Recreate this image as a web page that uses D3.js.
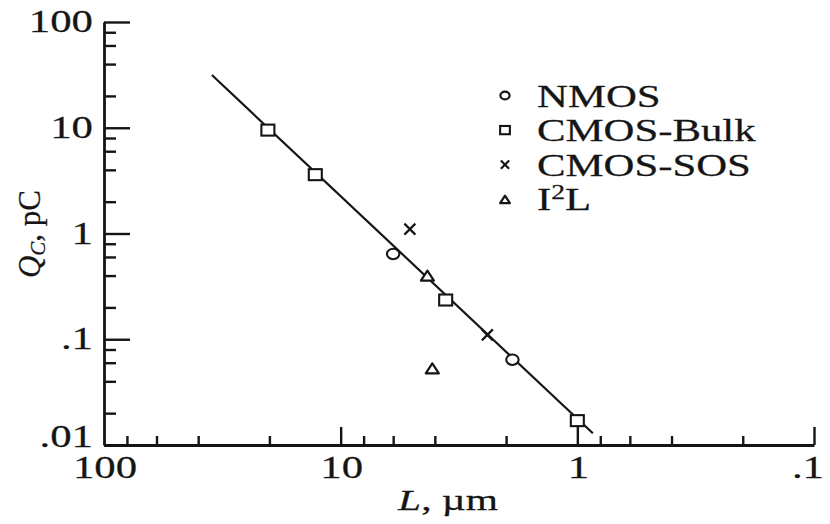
<!DOCTYPE html>
<html>
<head>
<meta charset="utf-8">
<script src="https://cdn.jsdelivr.net/npm/d3@7"></script>
<style>
  html, body { margin: 0; padding: 0; background: #fff; }
  svg { display: block; }
</style>
</head>
<body>
<svg id="chart" width="830" height="524"></svg>
<script>
// Collected charge Q_C versus channel length L for several technologies
const nmosL = [6.0, 1.88];
const nmosQ = [0.64, 0.064];
const bulkL = [20.3, 12.8, 3.6, 1.0];
const bulkQ = [9.5, 3.6, 0.235, 0.017];
const sosL = [5.1, 2.4];
const sosQ = [1.1, 0.11];
const i2lL = [4.3, 4.1];
const i2lQ = [0.40, 0.053];
// straight-line fit through the data (log-log)
const fitL = [35, 0.86];
const fitQ = [31.5, 0.0129];

const legendNames = ["NMOS", "CMOS-Bulk", "CMOS-SOS", "I2L"];
const xMajor = [100, 10, 1, 0.1];
const xMajorLabels = ["100", "10", "1", ".1"];
const yMajor = [0.01, 0.1, 1, 10, 100];
const yMajorLabels = [".01", ".1", "1", "10", "100"];
const minorSteps = [2, 4, 6, 8];

const INK = "#151515";
const FONT = "'Liberation Serif', 'Times New Roman', serif";
const SX = 1.38; // horizontal stretch of the lettering

const svg = d3.select("#chart");
svg.append("rect").attr("width", 830).attr("height", 524).attr("fill", "#fff");

const x = d3.scaleLog().domain([100, 0.1]).range([104, 814]);
const y = d3.scaleLog().domain([0.01, 100]).range([445, 22]);

const minorOf = decades => decades.flatMap(d => minorSteps.map(s => s * d));
const xMinor = minorOf([10, 1, 0.1]);
const yMinor = minorOf([0.01, 0.1, 1, 10]);

function styleAxis(g, w) {
  g.selectAll("path.domain").attr("stroke", INK).attr("stroke-width", w);
  g.selectAll(".tick line").attr("stroke", INK).attr("stroke-width", 2.4);
  g.selectAll(".tick text").remove();
}

// y axis: ticks pointing into the plot
const yAxisG = svg.append("g").attr("transform", `translate(${x(100)},0)`);
yAxisG.call(d3.axisLeft(y).tickValues(yMajor).tickSizeInner(-26).tickSizeOuter(0).tickFormat(""));
styleAxis(yAxisG, 2.8);
const yMinorG = svg.append("g").attr("transform", `translate(${x(100)},0)`);
yMinorG.call(d3.axisLeft(y).tickValues(yMinor).tickSizeInner(-12).tickSizeOuter(0).tickFormat(""));
styleAxis(yMinorG, 0);

// x axis
const xAxisG = svg.append("g").attr("transform", `translate(0,${y(0.01)})`);
xAxisG.call(d3.axisBottom(x).tickValues(xMajor.filter(v => v !== 100)).tickSizeInner(-18).tickSizeOuter(0).tickFormat(""));
styleAxis(xAxisG, 2.8);
const xMinorG = svg.append("g").attr("transform", `translate(0,${y(0.01)})`);
xMinorG.call(d3.axisBottom(x).tickValues(xMinor).tickSizeInner(-9).tickSizeOuter(0).tickFormat(""));
styleAxis(xMinorG, 0);

// stretched text helper
function stext(px, py, anchor, size, build, italic) {
  const t = svg.append("g")
    .attr("transform", `translate(${px},${py}) scale(${SX},1)`)
    .append("text")
    .attr("text-anchor", anchor)
    .attr("font-family", FONT)
    .attr("font-size", size)
    .attr("font-style", italic ? "italic" : "normal")
    .attr("fill", INK)
    .attr("stroke", INK)
    .attr("stroke-width", 0.25);
  build(t);
  return t;
}

// tick labels
yMajor.forEach((v, i) => {
  const base = y(v) + 10 - (v === yMajor[0] ? 8 : 0);
  stext(93, base, "end", 31, t => t.text(yMajorLabels[i]));
});
xMajor.forEach((v, i) => {
  const last = i === xMajor.length - 1;
  // the rightmost label is kept inside the frame
  stext(last ? x(v) + 10 : x(v) + 1, 478, last ? "end" : "middle", 31, t => t.text(xMajorLabels[i]));
});

// axis titles
stext(448, 510, "middle", 30, t => {
  t.append("tspan").attr("font-style", "italic").text("L");
  t.append("tspan").text(", \u00b5m");
});
const yt = svg.append("text")
  .attr("transform", `translate(40,234) rotate(-90)`)
  .attr("text-anchor", "middle")
  .attr("font-family", FONT)
  .attr("font-size", 31)
  .attr("fill", INK)
  .attr("stroke", INK)
  .attr("stroke-width", 0.25);
yt.append("tspan").attr("font-style", "italic").text("Q");
yt.append("tspan").attr("font-style", "italic").attr("font-size", 21).attr("dy", 5).text("C");
yt.append("tspan").attr("dy", -5).text(", pC");

// fit line
const line = d3.line().x(d => x(d[0])).y(d => y(d[1]));
svg.append("path")
  .datum(fitL.map((l, i) => [l, fitQ[i]]))
  .attr("d", line)
  .attr("fill", "none")
  .attr("stroke", INK)
  .attr("stroke-width", 2.2);

// marker drawers
function drawMarker(g, kind, s) {
  const sw = 2.1;
  if (kind === "circle") {
    g.append("ellipse").attr("rx", 6.2 * s).attr("ry", 5.2 * s)
      .attr("fill", "#fff").attr("stroke", INK).attr("stroke-width", sw);
  } else if (kind === "square") {
    g.append("rect").attr("x", -6.5 * s).attr("y", -5.5 * s)
      .attr("width", 13 * s).attr("height", 11 * s)
      .attr("fill", "#fff").attr("stroke", INK).attr("stroke-width", sw);
  } else if (kind === "cross") {
    const r = 5.5 * s;
    g.append("path").attr("d", `M${-r},${-r}L${r},${r}M${-r},${r}L${r},${-r}`)
      .attr("stroke", INK).attr("stroke-width", 2.2);
  } else {
    const w = 6.5 * s, h = 5 * s;
    g.append("path").attr("d", `M0,${-h}L${w},${h}L${-w},${h}Z`)
      .attr("fill", "#fff").attr("stroke", INK).attr("stroke-width", 2.2)
      .attr("stroke-linejoin", "round");
  }
}

const series = [
  { L: nmosL, Q: nmosQ, kind: "circle" },
  { L: bulkL, Q: bulkQ, kind: "square" },
  { L: sosL, Q: sosQ, kind: "cross" },
  { L: i2lL, Q: i2lQ, kind: "triangle" }
];

series.forEach(s => {
  s.L.forEach((l, i) => {
    const g = svg.append("g").attr("transform", `translate(${x(l)},${y(s.Q[i])})`);
    drawMarker(g, s.kind, 1);
  });
});

// legend
series.forEach((s, i) => {
  const base = 106.5 + i * 34.6;
  const g = svg.append("g").attr("transform", `translate(505,${base - 11})`);
  drawMarker(g, s.kind, 0.75);
  stext(537, base, "start", 31, t => {
    if (legendNames[i] === "I2L") {
      t.append("tspan").text("I");
      t.append("tspan").attr("font-size", 20).attr("dy", -11).text("2");
      t.append("tspan").attr("dy", 11).text("L");
    } else {
      t.text(legendNames[i]);
    }
  });
});
</script>
</body>
</html>
